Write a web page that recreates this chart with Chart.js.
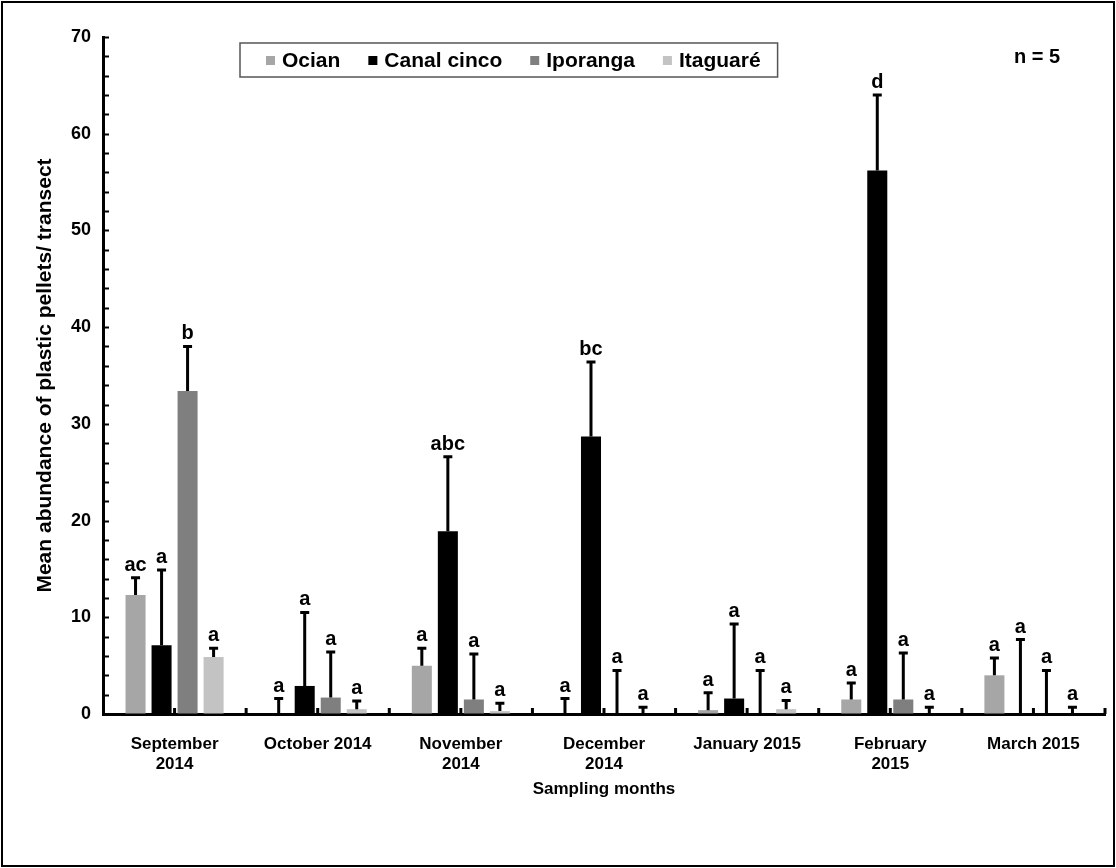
<!DOCTYPE html>
<html>
<head>
<meta charset="utf-8">
<script src="https://cdn.jsdelivr.net/npm/chart.js@4.4.1/dist/chart.umd.min.js"></script>
<style>
body { margin: 0; background: #fff; }
</style>
</head>
<body>
<canvas id="grafica" width="1116" height="868"></canvas>
<script>
// meses de muestreo (etiquetas del eje x)
const meses = [["September", "2014"], "October 2014", ["November", "2014"], ["December", "2014"], "January 2015", ["February", "2015"], "March 2015"];
const playas = ["Ocian", "Canal cinco", "Iporanga", "Itaguaré"];
const colores = ["#a6a6a6", "#000000", "#7f7f7f", "#c3c3c3"];

// medias por playa
const ocian = [12.3, 0, 5.0, 0, 0.4, 1.5, 4.0];
const canalCinco = [7.1, 2.9, 18.9, 28.7, 1.6, 56.2, 0];
const iporanga = [33.4, 1.7, 1.5, 0, 0, 1.5, 0];
const itaguare = [5.9, 0.5, 0.3, 0, 0.5, 0, 0];

// error (solo hacia arriba)
const errOcian = [1.8, 1.6, 1.8, 1.6, 1.8, 1.7, 1.8];
const errCanal = [7.8, 7.6, 7.7, 7.7, 7.7, 7.8, 7.7];
const errIporanga = [4.6, 4.7, 4.7, 4.5, 4.5, 4.8, 4.5];
const errItaguare = [0.9, 0.85, 0.8, 0.7, 0.9, 0.7, 0.7];

// letras de significancia
const letOcian = ["ac", "a", "a", "a", "a", "a", "a"];
const letCanal = ["a", "a", "abc", "bc", "a", "d", "a"];
const letIporanga = ["b", "a", "a", "a", "a", "a", "a"];
const letItaguare = ["a", "a", "a", "a", "a", "a", "a"];

const yTicks = [0, 10, 20, 30, 40, 50, 60, 70];

const series = [ocian, canalCinco, iporanga, itaguare];
const errores = [errOcian, errCanal, errIporanga, errItaguare];
const letras = [letOcian, letCanal, letIporanga, letItaguare];

const FUENTE = "'Liberation Sans', Arial, sans-serif";

const extras = {
    id: "extras",
    beforeDraw(chart) {
        const c = chart.ctx;
        c.save();
        c.fillStyle = "#fff";
        c.fillRect(0, 0, chart.width, chart.height);
        c.restore();
    },
    afterDatasetsDraw(chart) {
        const c = chart.ctx;
        const y = chart.scales.y;
        const x = chart.scales.x;
        const area = chart.chartArea;
        c.save();
        c.strokeStyle = "#000";
        c.fillStyle = "#000";

        // barras de error y letras
        series.forEach((datos, i) => {
            const meta = chart.getDatasetMeta(i);
            meta.data.forEach((bar, j) => {
                const top = y.getPixelForValue(datos[j] + errores[i][j]);
                const base = y.getPixelForValue(datos[j]);
                c.lineWidth = 3;
                c.beginPath();
                c.moveTo(bar.x, base);
                c.lineTo(bar.x, top);
                c.moveTo(bar.x - 4.5, top);
                c.lineTo(bar.x + 4.5, top);
                c.stroke();
                c.font = "bold 20px " + FUENTE;
                c.textAlign = "center";
                c.textBaseline = "alphabetic";
                c.fillText(letras[i][j], bar.x, top - 7);
            });
        });

        // marcas menores del eje y (hacia dentro)
        c.lineWidth = 2;
        for (let v = 0; v <= 70; v += 2) {
            const py = Math.round(y.getPixelForValue(v)) + 0.5;
            c.beginPath();
            c.moveTo(area.left, py);
            c.lineTo(area.left + 6, py);
            c.stroke();
        }

        // marcas del eje x (centros y limites de categoria)
        c.lineWidth = 3;
        const n = meses.length;
        const paso = x.getPixelForValue(1) - x.getPixelForValue(0);
        for (let k = 0; k < n; k++) {
            const cx = x.getPixelForValue(k);
            [cx, cx + paso / 2].forEach(px => {
                c.beginPath();
                c.moveTo(px, area.bottom);
                c.lineTo(px, area.bottom - 6);
                c.stroke();
            });
        }
        c.restore();
    },
    afterDraw(chart) {
        const c = chart.ctx;
        c.save();

        // leyenda dentro del area
        c.font = "bold 21px " + FUENTE;
        c.textBaseline = "middle";
        c.textAlign = "left";
        const lx = 240, ly = 43, lh = 34;
        let px = lx + 26;
        const cy = ly + lh / 2;
        playas.forEach((p, i) => {
            c.fillStyle = colores[i];
            c.fillRect(px, cy - 4, 9, 9);
            px += 16;
            c.fillStyle = "#000";
            c.fillText(p, px, cy + 1);
            px += c.measureText(p).width + 28;
        });
        const lw = px - 28 + 17 - lx;
        c.strokeStyle = "#555";
        c.lineWidth = 1.5;
        c.strokeRect(lx, ly, lw, lh);

        // n = 5
        c.fillStyle = "#000";
        c.font = "bold 20px " + FUENTE;
        c.textAlign = "left";
        c.fillText("n = 5", 1014, 57);

        // marco exterior
        c.strokeStyle = "#000";
        c.lineWidth = 2;
        c.strokeRect(2, 2, chart.width - 4, chart.height - 4);
        c.restore();
    }
};

const ctx = document.getElementById("grafica");

new Chart(ctx, {
    type: "bar",
    data: {
        labels: meses,
        datasets: playas.map((p, i) => ({
            label: p,
            data: series[i],
            backgroundColor: colores[i],
            borderWidth: 0,
            categoryPercentage: 0.727,
            barPercentage: 0.77
        }))
    },
    options: {
        responsive: false,
        animation: false,
        layout: { padding: { left: 0, right: 11, top: 37, bottom: 68 } },
        plugins: {
            legend: { display: false },
            tooltip: { enabled: false }
        },
        scales: {
            x: {
                grid: { display: true, drawOnChartArea: false, drawTicks: false },
                border: { display: true, color: "#000", width: 3 },
                ticks: {
                    color: "#000",
                    padding: 20,
                    maxRotation: 0,
                    autoSkip: false,
                    font: { family: FUENTE, weight: "bold", size: 17 }
                },
                title: {
                    display: true,
                    text: "Sampling months",
                    color: "#000",
                    padding: { top: 0, bottom: 0 },
                    font: { family: FUENTE, weight: "bold", size: 17 }
                },
                afterFit(scale) { scale.height = 86; }
            },
            y: {
                min: 0,
                max: 70,
                afterBuildTicks(scale) { scale.ticks = yTicks.map(v => ({ value: v })); },
                grid: { display: true, drawOnChartArea: false, drawTicks: false },
                border: { display: true, color: "#000", width: 3 },
                ticks: {
                    color: "#000",
                    padding: 12,
                    font: { family: FUENTE, weight: "bold", size: 18 }
                },
                title: {
                    display: true,
                    text: "Mean abundance of plastic pellets/ transect",
                    color: "#000",
                    padding: { top: 33, bottom: 0 },
                    font: { family: FUENTE, weight: "bold", size: 21 }
                },
                afterFit(scale) { scale.width = 103; }
            }
        }
    },
    plugins: [extras]
});
</script>
</body>
</html>
